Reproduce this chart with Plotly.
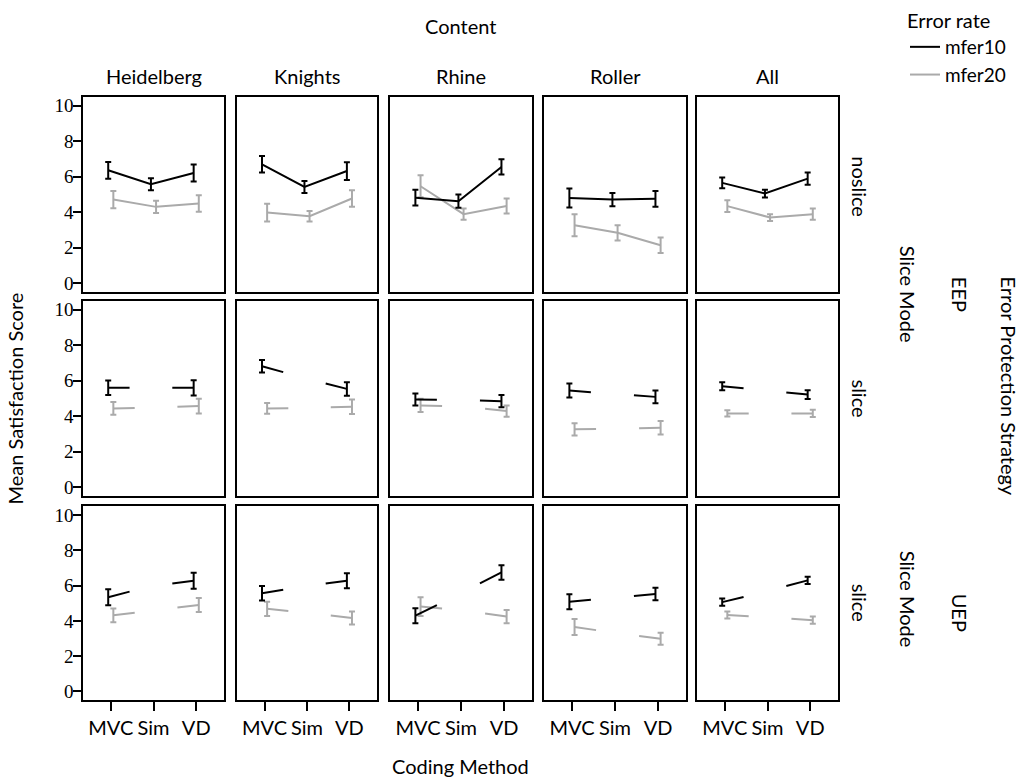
import plotly.graph_objects as go
from plotly.subplots import make_subplots

W, H = 1026, 783

# ---------------- data ----------------
contents = ["Heidelberg", "Knights", "Rhine", "Roller", "All"]
methods = ["MVC", "Sim", "VD"]
row_slice_mode = ["noslice", "slice", "slice"]
row_strategy = ["EEP", "EEP", "UEP"]
y_ticks = [0, 2, 4, 6, 8, 10]

# EEP / noslice  (values per content: [MVC, Sim, VD])
eep_noslice_mfer10 = [[6.35, 5.56, 6.20], [6.69, 5.41, 6.31], [4.81, 4.61, 6.54], [4.79, 4.70, 4.74], [5.64, 5.04, 5.88]]
eep_noslice_mfer10_err = [[0.47, 0.34, 0.48], [0.47, 0.34, 0.50], [0.45, 0.37, 0.43], [0.53, 0.37, 0.45], [0.30, 0.22, 0.34]]
eep_noslice_mfer20 = [[4.70, 4.29, 4.48], [3.97, 3.76, 4.76], [5.45, 3.88, 4.34], [3.26, 2.83, 2.13], [4.33, 3.69, 3.88]]
eep_noslice_mfer20_err = [[0.49, 0.35, 0.47], [0.50, 0.30, 0.47], [0.62, 0.32, 0.42], [0.62, 0.43, 0.44], [0.33, 0.19, 0.32]]

# EEP / slice  (Sim value not plotted as a point; only its adjoining half-lines show)
eep_slice_mfer10 = [[5.60, 5.60, 5.60], [6.82, 6.15, 5.54], [4.94, 4.92, 4.85], [5.45, 5.26, 5.09], [5.69, 5.46, 5.22]]
eep_slice_mfer10_err = [[0.41, None, 0.43], [0.35, None, 0.38], [0.34, None, 0.34], [0.39, None, 0.36], [0.23, None, 0.25]]
eep_slice_mfer20 = [[4.44, 4.50, 4.57], [4.44, 4.47, 4.53], [4.61, 4.55, 4.29], [3.26, 3.30, 3.35], [4.16, 4.16, 4.16]]
eep_slice_mfer20_err = [[0.36, None, 0.42], [0.30, None, 0.41], [0.37, None, 0.32], [0.34, None, 0.38], [0.18, None, 0.20]]

# UEP / slice
uep_slice_mfer10 = [[5.34, 5.97, 6.27], [5.56, 5.95, 6.27], [4.29, 5.50, 6.74], [5.08, 5.30, 5.52], [5.06, 5.65, 6.29]]
uep_slice_mfer10_err = [[0.45, None, 0.45], [0.41, None, 0.42], [0.43, None, 0.41], [0.42, None, 0.36], [0.20, None, 0.20]]
uep_slice_mfer20 = [[4.31, 4.60, 4.90], [4.68, 4.44, 4.16], [4.81, 4.60, 4.24], [3.65, 3.30, 2.99], [4.33, 4.20, 4.04]]
uep_slice_mfer20_err = [[0.39, None, 0.40], [0.40, None, 0.37], [0.53, None, 0.38], [0.45, None, 0.34], [0.20, None, 0.20]]

rows_data = [
    (eep_noslice_mfer10, eep_noslice_mfer10_err, eep_noslice_mfer20, eep_noslice_mfer20_err),
    (eep_slice_mfer10, eep_slice_mfer10_err, eep_slice_mfer20, eep_slice_mfer20_err),
    (uep_slice_mfer10, uep_slice_mfer10_err, uep_slice_mfer20, uep_slice_mfer20_err),
]

# ---------------- style ----------------
SANS = "Lato"
SERIF = "Liberation Serif"
FS = 20
BLACK = "#000000"
GRAY = "#aaaaaa"
DODGE = 0.06
col_px = [(83, 224), (237, 377), (390, 532), (544, 686), (697, 838)]
row_px = [(96, 292), (301, 497), (507, 702)]


def px_x(v):
    return v / W


def px_y(v):
    return 1 - v / H


fig = make_subplots(rows=3, cols=5)

series = [("mfer20", GRAY, 2, +DODGE), ("mfer10", BLACK, 0, -DODGE)]

for r in range(3):
    for c in range(5):
        d = rows_data[r]
        for name, color, idx, off in series:
            means = d[idx][c]
            errs = d[idx + 1][c]
            xs = [i + off for i in range(len(methods))]
            show = (r == 0 and c == 0)
            rank = 1 if name == "mfer10" else 2
            if row_slice_mode[r] == "noslice":
                fig.add_trace(go.Scatter(
                    x=xs, y=means, mode="lines", name=name,
                    line=dict(color=color, width=2),
                    error_y=dict(type="data", array=errs, color=color, thickness=2, width=3),
                    legendgroup=name, showlegend=show, legendrank=rank,
                    hoverinfo="skip"), row=r + 1, col=c + 1)
            else:
                # half segments toward/from the unplotted Sim level
                lx = [xs[0], (xs[0] + xs[1]) / 2, None, (xs[1] + xs[2]) / 2, xs[2]]
                ly = [means[0], (means[0] + means[1]) / 2, None, (means[1] + means[2]) / 2, means[2]]
                fig.add_trace(go.Scatter(
                    x=lx, y=ly, mode="lines", name=name,
                    line=dict(color=color, width=2),
                    legendgroup=name, showlegend=False, hoverinfo="skip"),
                    row=r + 1, col=c + 1)
                fig.add_trace(go.Scatter(
                    x=[xs[0], xs[2]], y=[means[0], means[2]], mode="markers", name=name,
                    marker=dict(size=1, opacity=0, color=color),
                    error_y=dict(type="data", array=[errs[0], errs[2]], color=color, thickness=2, width=3),
                    legendgroup=name, showlegend=False, hoverinfo="skip"),
                    row=r + 1, col=c + 1)

# axes
for r in range(3):
    for c in range(5):
        k = r * 5 + c + 1
        xa = "xaxis" if k == 1 else f"xaxis{k}"
        ya = "yaxis" if k == 1 else f"yaxis{k}"
        x0, x1 = col_px[c]
        y0, y1 = row_px[r]
        fig.layout[xa].update(
            domain=[px_x(x0), px_x(x1)], range=[-0.65, 2.65],
            tickvals=[0, 1, 2], ticktext=methods,
            showticklabels=(r == 2), ticks="outside" if r == 2 else "",
            ticklen=9, tickwidth=1.5, tickcolor=BLACK,
            showline=True, linecolor=BLACK, linewidth=1.5, mirror=True,
            showgrid=False, zeroline=False,
            tickfont=dict(family=SANS, size=FS, color=BLACK))
        fig.layout[ya].update(
            domain=[px_y(y1), px_y(y0)], range=[-0.5, 10.5],
            tickvals=y_ticks,
            showticklabels=(c == 0), ticks="outside" if c == 0 else "",
            ticklen=8, tickwidth=1.5, tickcolor=BLACK,
            ticklabelstandoff=-4,
            showline=True, linecolor=BLACK, linewidth=1.5, mirror=True,
            showgrid=False, zeroline=False,
            tickfont=dict(family=SERIF, size=19, color=BLACK))

ann = []


def add_text(text, x, y, angle=0, size=FS):
    ann.append(dict(text=text, x=px_x(x), y=px_y(y), xref="paper", yref="paper",
                    showarrow=False, textangle=angle, xanchor="center", yanchor="middle",
                    font=dict(family=SANS, size=size, color=BLACK)))


add_text("Content", 460.5, 25)
for c, name in enumerate(contents):
    add_text(name, (col_px[c][0] + col_px[c][1]) / 2, 75)
row_label_y = [186, 399, 604]
for r, name in enumerate(row_slice_mode):
    add_text(name, 860, row_label_y[r], angle=90)
add_text("Slice Mode", 908, 294, angle=90)
add_text("Slice Mode", 908, 600, angle=90)
add_text("EEP", 960, 294, angle=90)
add_text("UEP", 960, 614, angle=90)
add_text("Error Protection Strategy", 1009, 386, angle=90)
add_text("Mean Satisfaction Score", 15, 399, angle=-90)
add_text("Coding Method", 460.5, 768)

fig.update_layout(
    width=W, height=H, margin=dict(l=0, r=0, t=0, b=0),
    paper_bgcolor="white", plot_bgcolor="white",
    annotations=ann,
    showlegend=True,
    legend=dict(title=dict(text="Error rate", font=dict(family=SANS, size=FS, color=BLACK)),
                font=dict(family=SANS, size=19, color=BLACK),
                x=px_x(905), y=px_y(1), xanchor="left", yanchor="top",
                itemwidth=30, tracegroupgap=0, bgcolor="rgba(0,0,0,0)"),
)

fig.write_html("out.html")
